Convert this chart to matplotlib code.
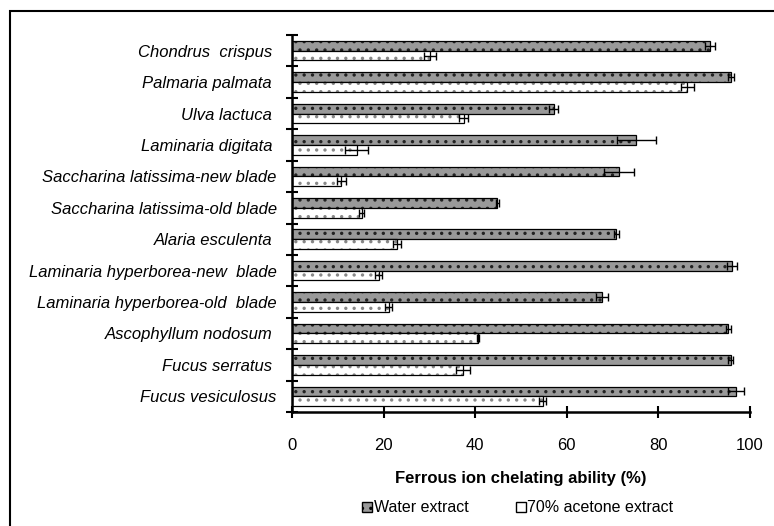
import numpy as np
import matplotlib
matplotlib.use("Agg")
import matplotlib.pyplot as plt
from matplotlib.patches import Rectangle, Patch

plt.rcParams['font.family'] = ['Liberation Sans', 'DejaVu Sans']
plt.rcParams['hatch.linewidth'] = 1.2

species = ['Chondrus  crispus ', 'Palmaria palmata ', 'Ulva lactuca ',
           'Laminaria digitata ', 'Saccharina latissima-new blade',
           'Saccharina latissima-old blade', 'Alaria esculenta ',
           'Laminaria hyperborea-new  blade', 'Laminaria hyperborea-old  blade',
           'Ascophyllum nodosum ', 'Fucus serratus ', 'Fucus vesiculosus']
water = [91.3, 95.8, 57.1, 75.2, 71.4, 44.8, 70.8, 96.0, 67.7, 95.3, 95.8, 96.9]
water_err = [1.1, 0.7, 0.9, 4.3, 3.3, 0.3, 0.5, 1.1, 1.4, 0.5, 0.5, 1.8]
acetone = [30.2, 86.3, 37.5, 14.1, 10.8, 15.2, 22.9, 18.9, 21.1, 40.6, 37.3, 54.7]
acetone_err = [1.3, 1.4, 1.0, 2.5, 1.0, 0.6, 0.9, 0.7, 0.7, 0.3, 1.5, 0.7]

fig = plt.figure(figsize=(7.74, 5.26), dpi=100)
# outer frame (only top and left visible)
fig.patches.append(Rectangle((10/774, -0.1), 1.2, 1 - 11/526 + 0.1,
                             transform=fig.transFigure, fill=False,
                             edgecolor='black', linewidth=1.5))

ax = fig.add_axes([292/774, 1 - 412/526, (750 - 292)/774, (412 - 35)/526])
y = np.arange(len(species))
h = 0.31

# water: grey fill with dark dots
ax.barh(y - h/2, water, height=h, color='#999999', edgecolor='#222222',
        hatch='..', linewidth=0)
ax.barh(y - h/2, water, height=h, fill=False, edgecolor='black', linewidth=0.9)
# acetone: white fill with light grey dots
ax.barh(y + h/2, acetone, height=h, color='white', edgecolor='#888888',
        hatch='..', linewidth=0)
ax.barh(y + h/2, acetone, height=h, fill=False, edgecolor='black', linewidth=0.9)

ax.errorbar(water, y - h/2, xerr=water_err, fmt='none', ecolor='black',
            elinewidth=1, capsize=3)
ax.errorbar(acetone, y + h/2, xerr=acetone_err, fmt='none', ecolor='black',
            elinewidth=1, capsize=3)

ax.set_xlim(0, 100)
ax.set_ylim(len(species) - 0.5, -0.5)
ax.set_xticks(np.arange(0, 101, 20))
ax.set_yticks(np.arange(-0.5, len(species)), labels=[])
ax.set_yticks(y, labels=species, minor=True)
ax.tick_params(axis='y', which='major', direction='inout', length=8, width=1.5)
ax.tick_params(axis='y', which='minor', length=0, pad=11)
ax.tick_params(axis='x', direction='inout', length=8, width=1.5, pad=15, labelsize=12)
for lab in ax.get_yticklabels(minor=True):
    lab.set_fontstyle('italic')
    lab.set_fontsize(12)

for s in ['top', 'right']:
    ax.spines[s].set_visible(False)
for s in ['left', 'bottom']:
    ax.spines[s].set_linewidth(1.8)

ax.set_xlabel('Ferrous ion chelating ability (%)', fontsize=12,
              fontweight='bold', labelpad=13)

handles = [Patch(facecolor='#999999', edgecolor='black', hatch='..'),
           Patch(facecolor='white', edgecolor='black')]
fig.legend(handles, ['Water extract', '70% acetone extract'], loc='center',
           bbox_to_anchor=(518/774, 1 - 508/526), ncol=2, frameon=False,
           fontsize=11.5, handlelength=0.6, handleheight=0.6, handletextpad=0.1,
           columnspacing=3.0)

fig.savefig('out.png', dpi=100)
